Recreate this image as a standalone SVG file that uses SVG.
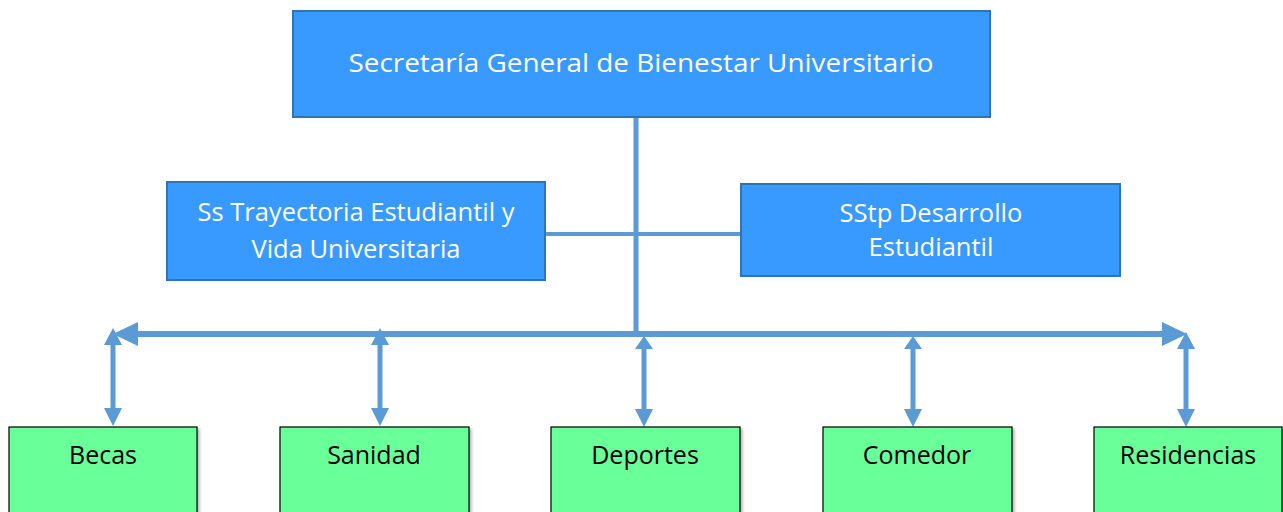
<svg xmlns="http://www.w3.org/2000/svg" width="1283" height="512" viewBox="0 0 1283 512">
<defs>
<style>
.blue{fill:#3899FE;stroke:#2E75B6;stroke-width:2}
.green{fill:#69FF99;stroke:#000;stroke-width:1.2}
.wt{fill:#fff;font-family:"Open Sans","Liberation Sans",sans-serif;text-anchor:middle}
.bt{fill:#000;font-family:"Open Sans","Liberation Sans",sans-serif;font-size:25px;text-anchor:middle}
.ln{stroke:#5B9BD5;fill:none}
.hd{fill:#5B9BD5}
</style>
<filter id="sh" x="-5%" y="-5%" width="115%" height="115%"><feDropShadow dx="2" dy="2" stdDeviation="1.5" flood-color="#000" flood-opacity="0.3"/></filter>
</defs>
<rect width="1283" height="512" fill="#fff"/>
<g id="connectors">
<line class="ln" x1="636" y1="117" x2="636" y2="334" stroke-width="5"/>
<line class="ln" x1="545" y1="234" x2="741" y2="234" stroke-width="4"/>
<line class="ln" x1="134" y1="334" x2="1165" y2="334" stroke-width="6"/>
<polygon class="hd" points="113,334 138,322 138,346"/>
<polygon class="hd" points="1187,334 1162,322 1162,346"/>
<line class="ln" x1="113" y1="340" x2="113" y2="412" stroke-width="5"/>
<polygon class="hd" points="113,328 104,345 122,345"/>
<polygon class="hd" points="113,426 104,408 122,408"/>
<line class="ln" x1="380" y1="340" x2="380" y2="412" stroke-width="5"/>
<polygon class="hd" points="380,328 371,345 389,345"/>
<polygon class="hd" points="380,426 371,408 389,408"/>
<line class="ln" x1="644" y1="340" x2="644" y2="412" stroke-width="5"/>
<polygon class="hd" points="644,336 635,349 653,349"/>
<polygon class="hd" points="644,427 635,409 653,409"/>
<line class="ln" x1="913" y1="340" x2="913" y2="412" stroke-width="5"/>
<polygon class="hd" points="913,336 904,349 922,349"/>
<polygon class="hd" points="913,427 904,409 922,409"/>
<line class="ln" x1="1186" y1="340" x2="1186" y2="412" stroke-width="5"/>
<polygon class="hd" points="1186,332 1177,349 1195,349"/>
<polygon class="hd" points="1186,427 1177,409 1195,409"/>
</g>
<g id="secretaria">
<rect class="blue" x="293" y="11" width="697" height="106"/>
<text class="wt" x="641" y="72" font-size="26" textLength="585" lengthAdjust="spacingAndGlyphs">Secretaría General de Bienestar Universitario</text>
</g>
<g id="trayectoria">
<rect class="blue" x="167" y="182" width="378" height="98"/>
<text class="wt" x="356" y="221" font-size="25.5">Ss Trayectoria Estudiantil y</text>
<text class="wt" x="356" y="258" font-size="25.5">Vida Universitaria</text>
</g>
<g id="desarrollo">
<rect class="blue" x="741" y="184" width="379" height="92"/>
<text class="wt" x="931" y="222" font-size="25.5">SStp Desarrollo</text>
<text class="wt" x="931" y="256" font-size="25.5">Estudiantil</text>
</g>
<g id="becas">
<rect class="green" x="9" y="427" width="188" height="95" filter="url(#sh)"/>
<text class="bt" x="103" y="464">Becas</text>
</g>
<g id="sanidad">
<rect class="green" x="280" y="427" width="189" height="95" filter="url(#sh)"/>
<text class="bt" x="374" y="464">Sanidad</text>
</g>
<g id="deportes">
<rect class="green" x="551" y="427" width="189" height="95" filter="url(#sh)"/>
<text class="bt" x="645" y="464">Deportes</text>
</g>
<g id="comedor">
<rect class="green" x="823" y="427" width="189" height="95" filter="url(#sh)"/>
<text class="bt" x="917" y="464">Comedor</text>
</g>
<g id="residencias">
<rect class="green" x="1094" y="427" width="188" height="95" filter="url(#sh)"/>
<text class="bt" x="1188" y="464">Residencias</text>
</g>
</svg>
